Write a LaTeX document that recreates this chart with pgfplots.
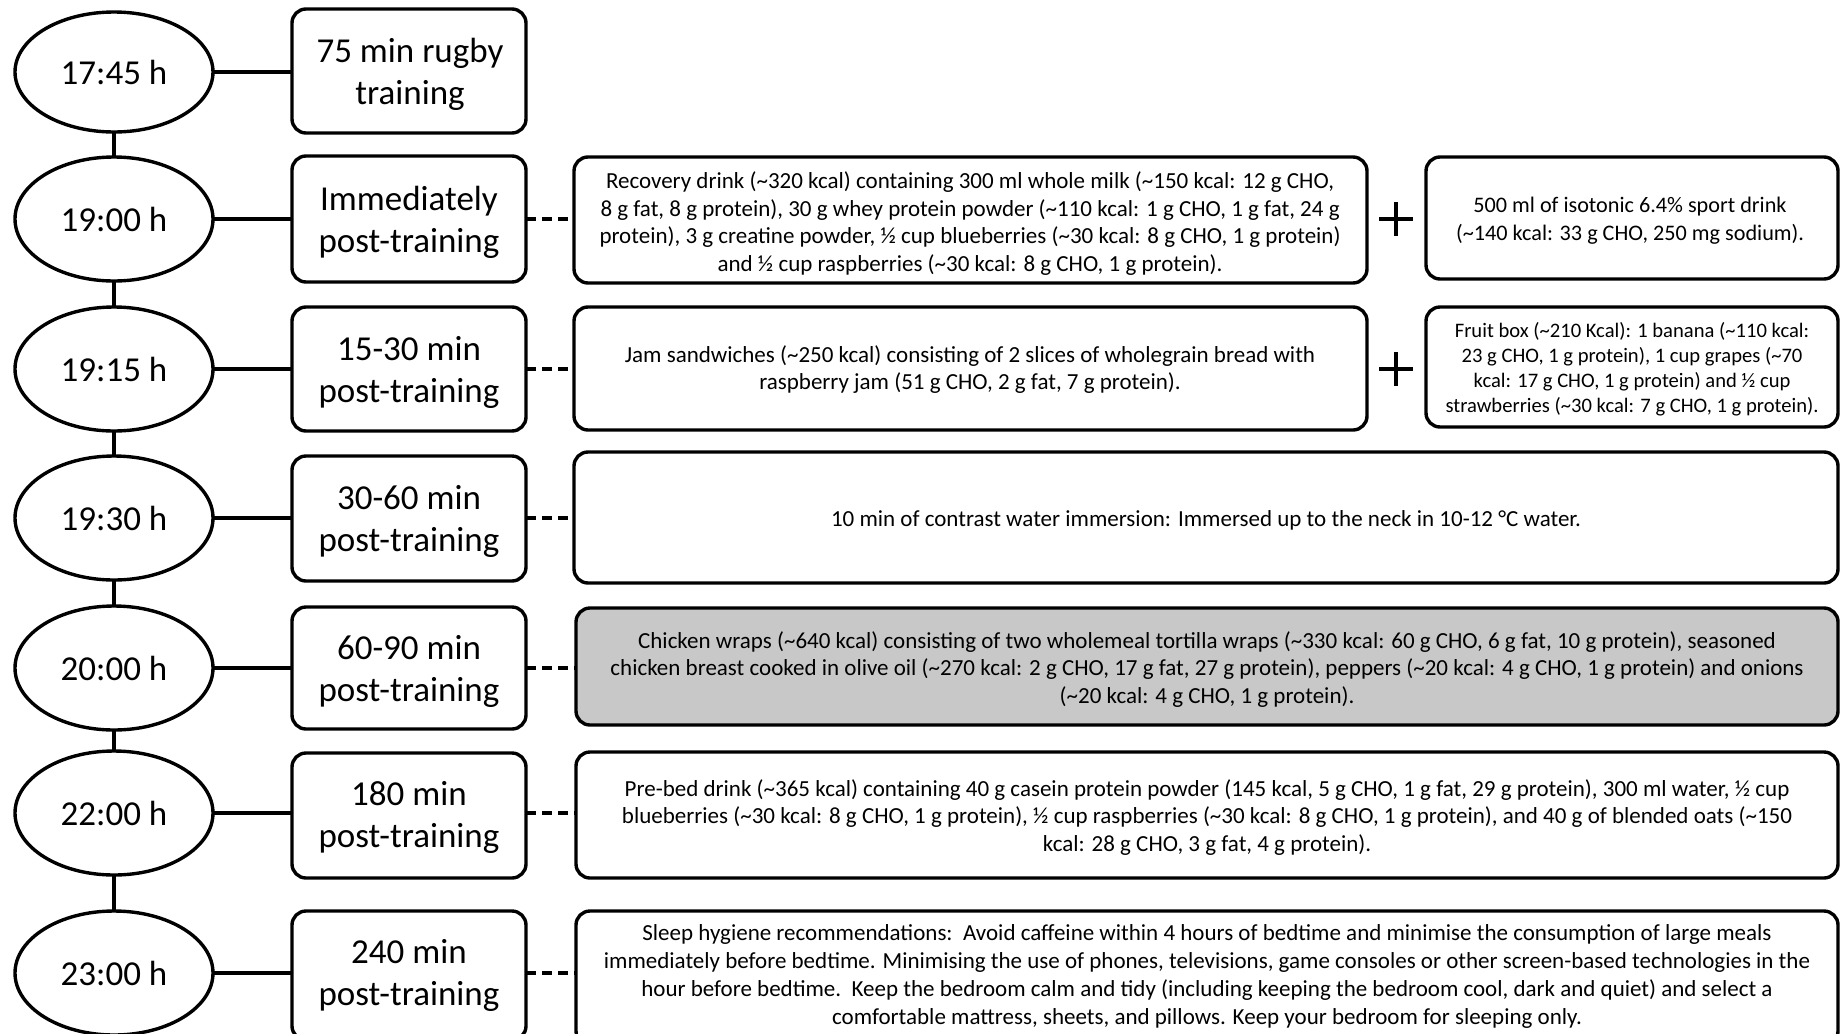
\documentclass[border=0pt]{standalone}
\usepackage{fontspec}
\setmainfont{Carlito}
\usepackage{pgfplots}
\pgfplotsset{compat=1.18}
\definecolor{boxgray}{RGB}{200,200,200}
\newcommand{\ti}{\textasciitilde}
\begin{document}
\begin{tikzpicture}
\begin{axis}[width=920pt,height=516.5pt,scale only axis,xmin=0,xmax=1840,ymin=0,ymax=1033,y dir=reverse,hide axis,clip=false]
% vertical spine
\addplot[black,line width=1.7pt] coordinates {(114,72) (114,973)};
% horizontal connectors ellipse -> left box
\addplot[black,line width=1.7pt] coordinates {(114,72) (292,72)};
\addplot[black,line width=1.7pt] coordinates {(114,219) (292,219)};
\addplot[black,line width=1.7pt] coordinates {(114,369) (292,369)};
\addplot[black,line width=1.7pt] coordinates {(114,518) (292,518)};
\addplot[black,line width=1.7pt] coordinates {(114,668) (292,668)};
\addplot[black,line width=1.7pt] coordinates {(114,813) (292,813)};
\addplot[black,line width=1.7pt] coordinates {(114,973) (292,973)};
% dashed connectors
\addplot[black,line width=1.7pt,dash pattern=on 5pt off 3pt] coordinates {(526,219) (574,219)};
\addplot[black,line width=1.7pt,dash pattern=on 5pt off 3pt] coordinates {(526,369) (574,369)};
\addplot[black,line width=1.7pt,dash pattern=on 5pt off 3pt] coordinates {(526,518) (574,518)};
\addplot[black,line width=1.7pt,dash pattern=on 5pt off 3pt] coordinates {(526,668) (576,668)};
\addplot[black,line width=1.7pt,dash pattern=on 5pt off 3pt] coordinates {(526,813) (576,813)};
\addplot[black,line width=1.7pt,dash pattern=on 5pt off 3pt] coordinates {(526,973) (576,973)};
% plus signs
\addplot[black,line width=2.4pt] coordinates {(1379,219) (1413,219)};
\addplot[black,line width=2.4pt] coordinates {(1396,202) (1396,236)};
\addplot[black,line width=2.4pt] coordinates {(1379,369) (1413,369)};
\addplot[black,line width=2.4pt] coordinates {(1396,352) (1396,386)};
% ellipses
\tikzset{ell/.style={draw=black,fill=white,line width=1.7pt},
 bx/.style={draw=black,fill=white,line width=1.7pt,rounded corners=7pt},
 lt/.style={align=center,font=\fontsize{17.5}{21}\selectfont},
 ct/.style={align=center,font=\fontsize{11.5}{13.9}\selectfont}}
\draw[ell] (axis cs:114,72) ellipse [x radius=49.5pt,y radius=30pt];
\draw[ell] (axis cs:114,219) ellipse [x radius=49.5pt,y radius=31pt];
\draw[ell] (axis cs:114,369) ellipse [x radius=49.5pt,y radius=31pt];
\draw[ell] (axis cs:114,518) ellipse [x radius=49.5pt,y radius=31pt];
\draw[ell] (axis cs:114,668) ellipse [x radius=49.5pt,y radius=31pt];
\draw[ell] (axis cs:114,813) ellipse [x radius=49.5pt,y radius=31pt];
\draw[ell] (axis cs:114,973) ellipse [x radius=49.5pt,y radius=31pt];
\node[lt] at (axis cs:114,72) {17:45 h};
\node[lt] at (axis cs:114,219) {19:00 h};
\node[lt] at (axis cs:114,369) {19:15 h};
\node[lt] at (axis cs:114,518) {19:30 h};
\node[lt] at (axis cs:114,668) {20:00 h};
\node[lt] at (axis cs:114,813) {22:00 h};
\node[lt] at (axis cs:114,973) {23:00 h};
% left boxes
\draw[bx] (axis cs:292,9) rectangle (axis cs:526,133);
\draw[bx] (axis cs:292,156) rectangle (axis cs:526,282);
\draw[bx] (axis cs:292,307) rectangle (axis cs:526,431);
\draw[bx] (axis cs:292,456) rectangle (axis cs:526,581);
\draw[bx] (axis cs:292,607) rectangle (axis cs:526,729);
\draw[bx] (axis cs:292,753) rectangle (axis cs:526,878);
\draw[bx] (axis cs:292,911) rectangle (axis cs:526,1040);
\node[lt] at (axis cs:410,74) {75 min rugby\\training};
\node[lt] at (axis cs:409,222) {Immediately\\post-training};
\node[lt] at (axis cs:409,372) {15-30 min\\post-training};
\node[lt] at (axis cs:409,521) {30-60 min\\post-training};
\node[lt] at (axis cs:409,671) {60-90 min\\post-training};
\node[lt] at (axis cs:409,817) {180 min\\post-training};
\node[lt] at (axis cs:409,975) {240 min\\post-training};
% content boxes
\draw[bx] (axis cs:574,157) rectangle (axis cs:1367,283);
\draw[bx] (axis cs:1426,157) rectangle (axis cs:1838,279);
\draw[bx] (axis cs:574,307) rectangle (axis cs:1367,430);
\draw[bx] (axis cs:1426,307) rectangle (axis cs:1838,427);
\draw[bx] (axis cs:574,452) rectangle (axis cs:1838,583);
\draw[bx,fill=boxgray] (axis cs:576,608) rectangle (axis cs:1838,725);
\draw[bx] (axis cs:576,752) rectangle (axis cs:1838,878);
\draw[bx] (axis cs:576,911) rectangle (axis cs:1838,1045);
\node[ct] at (axis cs:970,223.5) {Recovery drink (\ti320 kcal) containing 300 ml whole milk (\ti150 kcal: 12 g CHO,\\8 g fat, 8 g protein), 30 g whey protein powder (\ti110 kcal: 1 g CHO, 1 g fat, 24 g\\protein), 3 g creatine powder, ½ cup blueberries (\ti30 kcal: 8 g CHO, 1 g protein)\\and ½ cup raspberries (\ti30 kcal: 8 g CHO, 1 g protein).};
\node[ct,font=\fontsize{11.1}{13.9}\selectfont] at (axis cs:1630,220.5) {500 ml of isotonic 6.4\% sport drink\\(\ti140 kcal: 33 g CHO, 250 mg sodium).};
\node[ct] at (axis cs:970,369.5) {Jam sandwiches (\ti250 kcal) consisting of 2 slices of wholegrain bread with\\raspberry jam (51 g CHO, 2 g fat, 7 g protein).};
\node[ct,font=\fontsize{10.3}{12.5}\selectfont] at (axis cs:1632,369) {Fruit box (\ti210 Kcal): 1 banana (\ti110 kcal:\\23 g CHO, 1 g protein), 1 cup grapes (\ti70\\kcal: 17 g CHO, 1 g protein) and ½ cup\\strawberries (\ti30 kcal: 7 g CHO, 1 g protein).};
\node[ct] at (axis cs:1206,520) {10 min of contrast water immersion: Immersed up to the neck in 10-12 °C water.};
\node[ct] at (axis cs:1207,669.5) {Chicken wraps (\ti640 kcal) consisting of two wholemeal tortilla wraps (\ti330 kcal: 60 g CHO, 6 g fat, 10 g protein), seasoned\\chicken breast cooked in olive oil (\ti270 kcal: 2 g CHO, 17 g fat, 27 g protein), peppers (\ti20 kcal: 4 g CHO, 1 g protein) and onions\\(\ti20 kcal: 4 g CHO, 1 g protein).};
\node[ct] at (axis cs:1207,817.5) {Pre-bed drink (\ti365 kcal) containing 40 g casein protein powder (145 kcal, 5 g CHO, 1 g fat, 29 g protein), 300 ml water, ½ cup\\blueberries (\ti30 kcal: 8 g CHO, 1 g protein), ½ cup raspberries (\ti30 kcal: 8 g CHO, 1 g protein), and 40 g of blended oats (\ti150\\kcal: 28 g CHO, 3 g fat, 4 g protein).};
\node[ct] at (axis cs:1207,976.5) {Sleep hygiene recommendations:\ \ Avoid caffeine within 4 hours of bedtime and minimise the consumption of large meals\\immediately before bedtime. Minimising the use of phones, televisions, game consoles or other screen-based technologies in the\\hour before bedtime.\ \ Keep the bedroom calm and tidy (including keeping the bedroom cool, dark and quiet) and select a\\comfortable mattress, sheets, and pillows. Keep your bedroom for sleeping only.};
\end{axis}
\pgfresetboundingbox
\path (current axis.south west) rectangle (current axis.north east);
\end{tikzpicture}
\end{document}
